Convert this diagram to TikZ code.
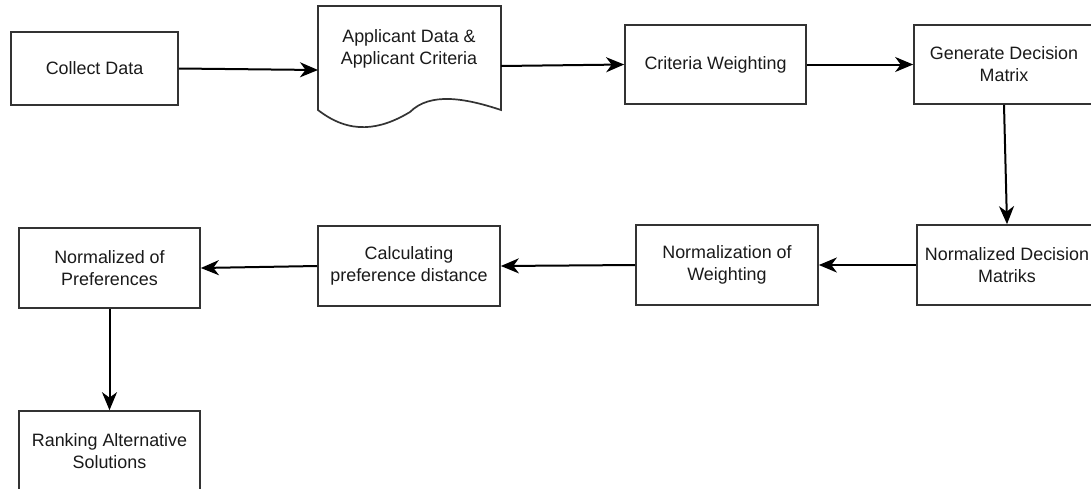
\documentclass[tikz,border=0pt]{standalone}
\usepackage{fontspec}
\setmainfont{Liberation Sans}
\usetikzlibrary{arrows.meta}
\definecolor{edge}{HTML}{333333}
\definecolor{txt}{HTML}{1A1A1A}
\begin{document}
\begin{tikzpicture}[x={(1pt,0)},y={(0,-1pt)},
  box/.style={draw=edge,line width=1.7pt,fill=white,align=center,inner sep=0pt,
    text=txt,font=\fontsize{17.9}{22}\selectfont},
  arr/.style={draw=black,line width=2pt,-{Stealth[length=18pt,width=15pt,inset=5.5pt]}},
  lbl/.style={align=center,text=txt,font=\fontsize{17.9}{22}\selectfont,inner sep=0pt}]
\clip (0,0) rectangle (1091,488);
\fill[white] (0,0) rectangle (1091,488);
% boxes
\node[box,minimum width=167pt,minimum height=73pt] (cd) at (94.5,68.5) {Collect Data};
\draw[draw=edge,line width=1.7pt,fill=white] (318,110) -- (318,6) -- (501,6) -- (501,110)
   .. controls (465,98) and (430,92) .. (410,112)
   .. controls (380,130) and (350,135) .. (318,110) -- cycle;
\node[lbl] (doc) at (409,48.5) {Applicant Data \&\\Applicant Criteria};
\coordinate (docin) at (318,70);
\coordinate (docout) at (501,66);
\node[box,minimum width=181pt,minimum height=79pt] (cw) at (715.5,64.5) {Criteria Weighting};
\node[box,minimum width=180pt,minimum height=79pt] (gdm) at (1004,64.5) {Generate Decision\\Matrix};
\node[box,minimum width=180pt,minimum height=80pt] (ndm) at (1007,265) {Normalized Decision\\Matriks};
\node[box,minimum width=182pt,minimum height=80pt] (now) at (727,265) {Normalization of\\Weighting};
\node[box,minimum width=182pt,minimum height=80pt] (cpd) at (409,266) {Calculating\\preference distance};
\node[box,minimum width=181pt,minimum height=80pt] (nop) at (109.5,268) {Normalized of\\Preferences};
\node[box,minimum width=181pt,minimum height=80pt,text depth=0pt] (ras) at (109.5,451) {Ranking Alternative\\Solutions};
% connectors
\draw[arr] (cd.east) -- (docin);
\draw[arr] (docout) -- (cw.west);
\draw[arr] (cw.east) -- (gdm.west);
\draw[arr] (gdm.south) -- (ndm.north);
\draw[arr] (ndm.west) -- (now.east);
\draw[arr] (now.west) -- (cpd.east);
\draw[arr] (cpd.west) -- (nop.east);
\draw[arr] (nop.south) -- (ras.north);
\end{tikzpicture}
\end{document}
